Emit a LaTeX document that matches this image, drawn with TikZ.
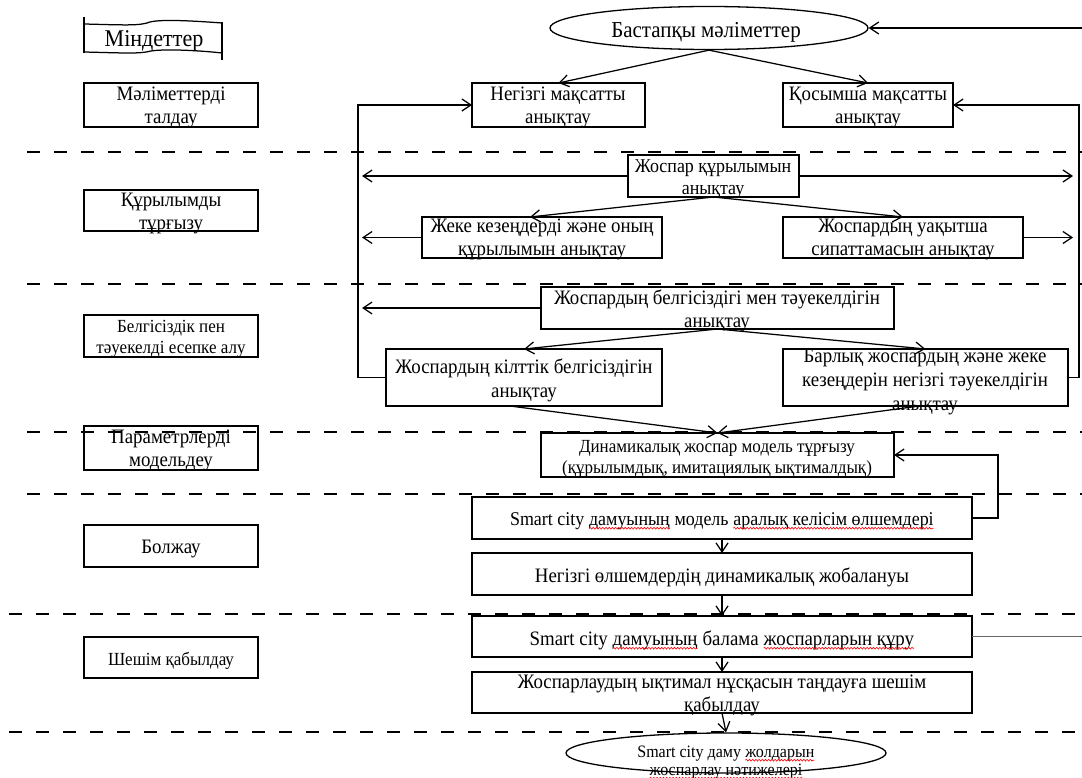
\documentclass[tikz,border=0pt]{standalone}
\usepackage{fontspec}
\setmainfont{Liberation Serif}[FakeStretch=0.92]
\usetikzlibrary{arrows.meta,shapes.geometric,decorations.pathmorphing}

\tikzset{
  box/.style={draw, line width=1.3pt, inner sep=0pt, outer sep=0pt},
  txt/.style={inner sep=0pt, outer sep=0pt, align=center, anchor=north},
  arr/.style={line width=1.25pt, -{Straight Barb[length=9pt,width=12pt]}},
  ln/.style={line width=1.25pt},
  sep/.style={line width=1.3pt, dash pattern=on 13pt off 14pt},
  squiggle/.style={red, line width=0.6pt, decorate,
    decoration={snake, amplitude=0.9pt, segment length=3.2pt}},
}
% box from its corners: name, x1, y1, x2, y2
\newcommand\bx[5]{\node[box, minimum width={(#4-#2)*1pt}, minimum height={(#5-#3)*1pt}] (#1) at ({(#2+#4)/2},{(#3+#5)/2}) {};}
% text block placed by the baseline of its first line: name, x, baseline, size, skip, text
\newcommand\tx[6]{\node[txt, font=\fontsize{#4}{#5}\selectfont] (#1) at (#2,{#3-0.7*#5}) {\strut #6};}
% red wavy underline for flagged words
\newcommand\spell[1]{\tikz[baseline=(w.base)]{%
  \node[inner sep=0pt, outer sep=0pt, anchor=base west] (w) at (0,0) {#1};
  \draw[squiggle] ([yshift=-3.2pt]w.base west) -- ([yshift=-3.2pt]w.base east);}}

\begin{document}
\begin{tikzpicture}[x=1pt, y=-1pt]
\useasboundingbox (0,0) rectangle (1082,778);

% ---- stage separators
\foreach \yy in {152,284,432,494} \draw[sep] (27,\yy) -- (1082,\yy);
\foreach \yy in {614,732} \draw[sep] (9,\yy) -- (1082,\yy);

% ---- heading banner
\draw[ln] (84,17) -- (84,53);
\draw[ln] (222,22) -- (222,60);
\draw[ln] (84,24) .. controls (125,25) and (140,26) .. (150,22) .. controls (162,19) and (195,21) .. (222,23);
\draw[ln] (84,52) .. controls (125,53) and (140,54) .. (151,51) .. controls (163,49) and (195,50) .. (222,53);
\tx{title}{154}{47}{24}{26}{Міндеттер}

% ---- left column: tasks
\bx{l1}{84}{83}{258}{127}
\bx{l2}{84}{190}{258}{231}
\bx{l3}{84}{315}{258}{357}
\bx{l4}{84}{426}{258}{470}
\bx{l5}{84}{525}{258}{567}
\bx{l6}{84}{637}{258}{678}
\tx{t-l1}{171}{101}{20.5}{23}{Мәліметтерді\\талдау}
\tx{t-l2}{171}{207}{20.5}{23}{Құрылымды\\тұрғызу}
\tx{t-l3}{171}{332}{18.5}{21}{Белгісіздік пен\\тәуекелді есепке алу}
\tx{t-l4}{171}{443}{20.5}{23}{Параметрлерді\\модельдеу}
\tx{t-l5}{171}{553}{20.5}{23}{Болжау}
\tx{t-l6}{171}{665}{18.5}{21}{Шешім қабылдау}

% ---- right column: process
\node[draw, ellipse, line width=1.3pt, inner sep=0pt, minimum width=318pt, minimum height=43pt] (src) at (709,28) {};
\tx{t-src}{706}{38}{22.8}{25}{Бастапқы мәліметтер}

\bx{goal1}{472}{83}{645}{127}
\bx{goal2}{783}{83}{953}{127}
\bx{struct}{628}{155}{799}{197}
\bx{stages}{422}{217}{662}{258}
\bx{timing}{783}{217}{1023}{258}
\bx{unc}{541}{287}{894}{329}
\bx{keyunc}{386}{349}{662}{406}
\bx{risk}{783}{349}{1068}{406}
\bx{dyn}{541}{433}{894}{477}
\bx{crit}{472}{497}{972}{539}
\bx{proj}{472}{553}{972}{595}
\bx{alt}{472}{616}{972}{657}
\bx{pick}{472}{672}{972}{713}
\node[draw, ellipse, line width=1.3pt, inner sep=0pt, minimum width=320pt, minimum height=40pt] (res) at (726,753) {};

\tx{t-goal1}{558}{101}{20.5}{23}{Негізгі мақсатты\\анықтау}
\tx{t-goal2}{868}{101}{20.5}{23}{Қосымша мақсатты\\анықтау}
\tx{t-struct}{713}{173}{19.5}{22}{Жоспар құрылымын\\анықтау}
\tx{t-stages}{542}{233}{20.5}{23}{Жеке кезеңдерді және оның\\құрылымын анықтау}
\tx{t-timing}{903}{233}{20.5}{23}{Жоспардың уақытша\\сипаттамасын анықтау}
\tx{t-unc}{717}{304}{20.5}{23}{Жоспардың белгісіздігі мен тәуекелдігін\\анықтау}
\tx{t-keyunc}{524}{373}{20.5}{24}{Жоспардың кілттік белгісіздігін\\анықтау}
\tx{t-risk}{925}{362}{20.5}{24}{Барлық жоспардың және жеке\\кезеңдерін негізгі тәуекелдігін\\анықтау}
\tx{t-dyn}{717}{452}{18.5}{21}{Динамикалық жоспар модель тұрғызу\\(құрылымдық, имитациялық ықтималдық)}
\tx{t-crit}{722}{525}{19.5}{22}{Smart city \spell{дамуының} модель \spell{аралық келісім өлшемдері}}
\tx{t-proj}{722}{582}{20.5}{23}{Негізгі өлшемдердің динамикалық жобалануы}
\tx{t-alt}{722}{645}{20.5}{23}{Smart city \spell{дамуының} балама \spell{жоспарларын құру}}
\tx{t-pick}{722}{688}{20.5}{23}{Жоспарлаудың ықтимал нұсқасын таңдауға шешім\\қабылдау}
\tx{t-res}{726}{757}{17.4}{18}{Smart city даму \spell{жолдарын}\\\spell{жоспарлау нәтижелері}}

% ---- connectors
\coordinate (inflow) at (1082,28);
\coordinate (lftip) at (362,0);
\coordinate (rttip) at (1073,0);
\coordinate (outflow) at (1082,0);

\draw[arr] (inflow) -- (src.east);
\draw[arr] (src.south) -- (goal1.north);
\draw[arr] (src.south) -- (goal2.north);

\draw[arr] (keyunc.west) -- ++(-28,0) |- (goal1.west);
\draw[arr] (risk.east) -- ++(11,0) |- (goal2.east);

\draw[arr] (struct.west) -- (struct.west -| lftip);
\draw[arr] (struct.east) -- (struct.east -| rttip);
\draw[arr] (stages.west) -- (stages.west -| lftip);
\draw[arr] (timing.east) -- (timing.east -| rttip);
\draw[arr] (unc.west) -- (unc.west -| lftip);

\draw[arr] (struct.south) -- ([xshift=-12pt]stages.north);
\draw[arr] (struct.south) -- (timing.north);
\draw[arr] (unc.south) -- (keyunc.north);
\draw[arr] (unc.south) -- (risk.north);
\draw[arr] ([xshift=-14pt]keyunc.south) -- (dyn.north);
\draw[arr] ([xshift=-6pt]risk.south) -- (dyn.north);

\draw[arr] (crit.east) -- ++(26,0) |- (dyn.east);
\draw[arr] (crit.south) -- (proj.north);
\draw[arr] (proj.south) -- (alt.north);
\draw[arr] (alt.south) -- (pick.north);
\draw[arr] (pick.south) -- (res.north);
\draw[ln, black!60] (alt.east) -- (alt.east -| outflow);
\end{tikzpicture}
\end{document}
